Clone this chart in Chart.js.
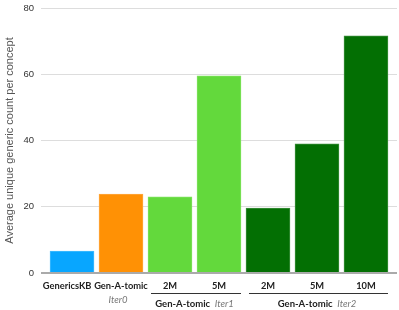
<!DOCTYPE html>
<html>
<head>
<meta charset="utf-8">
<script src="https://cdn.jsdelivr.net/npm/chart.js@4.4.0/dist/chart.umd.min.js"></script>
<style>
  html, body { margin: 0; padding: 0; background: #fff; }
  #wrap { width: 399px; height: 310px; }
</style>
</head>
<body>
<div id="wrap"><canvas id="chart" width="399" height="310"></canvas></div>
<script>
// chart data
const categories = ['GenericsKB', 'Gen-A-tomic', '2M', '5M', '2M', '5M', '10M'];
const values = [6.6, 23.8, 23.0, 59.5, 19.6, 39.0, 71.6];
const yTicks = [0, 20, 40, 60, 80];
// group captions under the axis: name, iteration, first and last bar index
const groupNames = ['', 'Gen-A-tomic', 'Gen-A-tomic'];
const groupIters = ['Iter0', 'Iter1', 'Iter2'];
const groupFrom = [1, 2, 4];
const groupTo = [1, 3, 6];

const barColors = ['#08a6ff', '#ff9105', '#63d93c', '#63d93c', '#036f03', '#036f03', '#036f03'];
const barBorders = ['#45bcff', '#ffa840', '#80e25f', '#80e25f', '#3c8f3c', '#3c8f3c', '#3c8f3c'];

const groupPlugin = {
    id: 'groups',
    afterDraw(chart) {
        const ctx = chart.ctx;
        const x = chart.scales.x;
        ctx.save();
        ctx.textBaseline = 'middle';
        for (let g = 0; g < groupIters.length; g++) {
            const left = x.getPixelForValue(groupFrom[g]) - 22;
            const right = x.getPixelForValue(groupTo[g]) + 22;
            const mid = (left + right) / 2;
            if (groupNames[g] === '') {
                ctx.font = 'italic 9.5px Lato';
                ctx.fillStyle = '#777';
                ctx.textAlign = 'center';
                ctx.fillText(groupIters[g], mid - 3, 300);
                continue;
            }
            // rule over the group
            ctx.strokeStyle = '#333';
            ctx.lineWidth = 1;
            ctx.beginPath();
            ctx.moveTo(left + 3, 293.5);
            ctx.lineTo(right, 293.5);
            ctx.stroke();

            ctx.font = 'bold 9.5px Lato';
            const w1 = ctx.measureText(groupNames[g] + '  ').width;
            ctx.font = 'italic 9.5px Lato';
            const w2 = ctx.measureText(groupIters[g]).width;
            const start = mid - (w1 + w2) / 2;
            ctx.textAlign = 'left';
            ctx.font = 'bold 9.5px Lato';
            ctx.fillStyle = '#222';
            ctx.fillText(groupNames[g], start, 304);
            ctx.font = 'italic 9.5px Lato';
            ctx.fillStyle = '#777';
            ctx.fillText(groupIters[g], start + w1, 304);
        }
        ctx.restore();
    }
};

new Chart(document.getElementById('chart'), {
    type: 'bar',
    data: {
        datasets: [{
            data: values.map((v, i) => ({ x: i, y: v })),
            backgroundColor: barColors,
            borderColor: barBorders,
            borderWidth: 1,
            barThickness: 44
        }]
    },
    options: {
        responsive: false,
        animation: false,
        layout: { autoPadding: false, padding: { top: 8, right: 2, left: 0, bottom: 0 } },
        plugins: {
            legend: { display: false },
            tooltip: { enabled: false }
        },
        scales: {
            x: {
                type: 'linear',
                offset: false,
                min: -0.633,
                max: 6.633,
                // first label sits a little left of its bar, as in the original
                afterBuildTicks: (scale) => { scale.ticks = categories.map((_, i) => ({ value: i === 0 ? -0.1 : i })); },
                afterFit: (scale) => { scale.height = 37; },
                grid: { display: false, drawTicks: false, offset: false },
                border: { display: false },
                ticks: {
                    autoSkip: false,
                    maxRotation: 0,
                    padding: 7,
                    color: '#222',
                    font: { family: 'Lato', size: 9.3, weight: 'bold' },
                    callback: (v) => categories[Math.round(v)]
                }
            },
            y: {
                min: 0,
                max: 80,
                afterBuildTicks: (scale) => { scale.ticks = yTicks.map(v => ({ value: v })); },
                afterFit: (scale) => {
                    scale.width = 41;
                    scale.paddingTop = 0;
                    scale.paddingBottom = 0;
                },
                border: { display: false },
                grid: {
                    drawTicks: false,
                    color: (c) => c.tick.value === 0 ? '#aaaaaa' : '#dddddd',
                    lineWidth: (c) => c.tick.value === 0 ? 2 : 1
                },
                ticks: {
                    padding: 7,
                    color: '#333',
                    font: { family: 'Liberation Sans', size: 9.5, lineHeight: 0.6 }
                },
                title: {
                    display: true,
                    text: 'Average unique generic count per concept',
                    color: '#555',
                    padding: { top: 3, bottom: 0 },
                    font: { family: 'Liberation Sans', size: 11 }
                }
            }
        }
    },
    plugins: [groupPlugin]
});
</script>
</body>
</html>
